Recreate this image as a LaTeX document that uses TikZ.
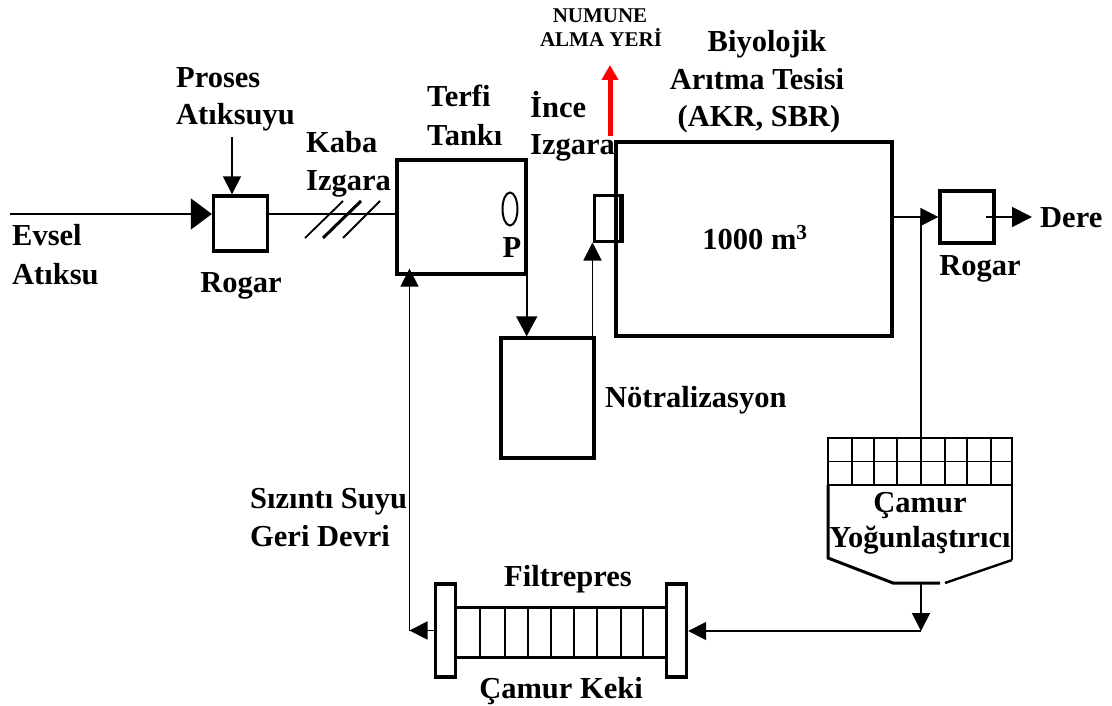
\documentclass[tikz,border=0pt]{standalone}
\usepackage{fontspec}
\setmainfont{Liberation Serif}
\usetikzlibrary{arrows.meta,shapes.geometric}
\tikzset{
  lbl/.style={inner sep=0pt,anchor=base,font=\fontsize{30.5}{31}\selectfont\bfseries},
  lblw/.style={lbl,anchor=base west},
  smalllbl/.style={inner sep=0pt,anchor=base,font=\fontsize{21}{21}\selectfont\bfseries},
  unit/.style={draw,line width=#1,inner sep=0pt},
  unit/.default=3.4pt,
  flow/.style={line width=1.8pt,-{Triangle[length=18pt,width=18pt]}},
  pipe/.style={line width=1.8pt},
}
\begin{document}
\begin{tikzpicture}[x=1pt,y=-1pt]
  \useasboundingbox (0,0) rectangle (1112,706);
  % boxes
  \node[unit,minimum width=54pt,minimum height=55pt](rogarA) at (240.5,223.5) {};
  \node[unit,minimum width=129pt,minimum height=114pt](tank) at (461.5,217) {};
  \node[unit,minimum width=93pt,minimum height=120pt](notr) at (547.5,398) {};
  \node[unit,minimum width=276pt,minimum height=194pt](biyo) at (754,239) {};
  \node[unit=3pt,minimum width=26pt,minimum height=45pt](ince) at (607,218.5) {};
  \node[unit,minimum width=54pt,minimum height=52pt](rogarB) at (967,217) {};
  \draw[line width=5pt] (ince.north east) -- (ince.south east);
  \node[draw,ellipse,line width=2pt,minimum width=15pt,minimum height=33pt,inner sep=0pt](pump) at (510,209) {};
  \node[lbl](pLbl) at (512,258) {P};
  % free ends
  \coordinate (evsel) at (10,214);
  \coordinate (proses) at (232,137);
  \coordinate (dere) at (1032,217);
  \coordinate (dereIc) at (986,217);
  \coordinate (numuneA) at (610,136);
  \coordinate (numuneB) at (610,65);
  \coordinate (ayir) at (921,217);
  \coordinate (donus) at (409.5,630.5);
  \coordinate (dirsek) at (921,631);
  % main line
  \draw[line width=1.8pt,-{Triangle[length=21pt,width=31pt]}] (evsel) -- (evsel -| rogarA.west);
  \draw[pipe] (rogarA.east |- evsel) -- (tank.west |- evsel);
  \draw[line width=1.8pt] (305,238)--(343,201) (343,238)--(380,201);
  \draw[line width=3pt] (323,238)--(361,201);
  \draw[flow] (proses) -- (rogarA.north -| proses);
  \draw[line width=1.8pt,-{Triangle[length=20pt,width=21pt]}] (tank.south east) ++(-1,0) coordinate (tankOut) -- (tankOut |- notr.north);
  \draw[flow] (ince.south west |- notr.north) -- (ince.south west);
  \draw[flow] (biyo.east |- ayir) -- (rogarB.west |- ayir);
  \draw[line width=1.8pt,-{Triangle[length=20pt,width=20pt]}] (dereIc) -- (dere);
  \draw[-{Triangle[length=15pt,width=16pt]},red,line width=5pt] (numuneA) -- (numuneB);
  % thickener
  \node[draw,line width=1.5pt,minimum width=184pt,minimum height=47pt,inner sep=0pt](grid) at (920,461.5) {};
  \foreach \gx in {852,874,897,921,945,967,991}
    \draw[line width=1.5pt] (\gx,438) -- (\gx,485);
  \draw[line width=1.5pt] (grid.west) -- (grid.east);
  \draw[pipe] (ayir) -- (ayir |- grid.north);
  \draw[line width=3pt] (828,485) -- (828,558) -- (893,583) -- (940,583);
  \draw[line width=2.4pt] (945,583) -- (1012,560);
  \draw[line width=1.5pt] (1012,560) -- (1012,485);
  \coordinate (stem) at (921,583);
  \draw[flow] (stem) -- (dirsek);
  % filter press
  \node[draw,line width=3.4pt,minimum width=20pt,minimum height=93pt,inner sep=0pt](plateA) at (445.5,630.5) {};
  \node[draw,line width=3.4pt,minimum width=20pt,minimum height=93pt,inner sep=0pt](plateB) at (676.5,630.5) {};
  \draw[line width=3pt] (plateA.east |- 0,607) -- (plateB.west |- 0,607) (plateA.east |- 0,657) -- (plateB.west |- 0,657);
  \foreach \fx in {480,505,528,551,574,597,621,643}
    \draw[line width=1.4pt] (\fx,607) -- (\fx,657);
  \draw[flow] (dirsek) -- (plateB.east |- dirsek);
  \draw[flow] (plateA.west |- donus) -- (donus);
  \draw[flow,shorten >=-7pt] (donus) -- (tank.south -| donus);
  % labels
  \node[lblw](l1) at (176,88) {Proses};
  \node[lblw](l2) at (176,125) {Atıksuyu};
  \node[lblw](l3) at (12,245) {Evsel};
  \node[lblw](l4) at (12,284) {Atıksu};
  \node[lbl](l5) at (241,292) {Rogar};
  \node[lblw](l6) at (306,153) {Kaba};
  \node[lblw](l7) at (306,190) {Izgara};
  \node[lblw](l8) at (427,107) {Terfi};
  \node[lblw](l9) at (427,146) {Tankı};
  \node[lblw](l10) at (530,118) {İnce};
  \node[lblw](l11) at (530,155) {Izgara};
  \node[smalllbl](l12) at (600,23) {NUMUNE};
  \node[smalllbl](l13) at (601,47) {ALMA YERİ};
  \node[lbl](l14) at (767,52) {Biyolojik};
  \node[lbl](l15) at (757,90) {Arıtma Tesisi};
  \node[lbl](l16) at (759,127) {(AKR, SBR)};
  \node[lbl](l17) at (755,249) {1000 m$^{\mathbf{3}}$};
  \node[lblw](l18) at (1040,228) {Dere};
  \node[lbl](l19) at (980,275) {Rogar};
  \node[lblw](l20) at (605,407) {Nötralizasyon};
  \node[lblw](l21) at (250,508) {Sızıntı Suyu};
  \node[lblw](l22) at (250,546) {Geri Devri};
  \node[lbl](l23) at (568,586) {Filtrepres};
  \node[lbl](l24) at (561,698) {Çamur Keki};
  \node[lbl](l25) at (920,512) {Çamur};
  \node[lbl](l26) at (920,547) {Yoğunlaştırıcı};
\end{tikzpicture}
\end{document}
